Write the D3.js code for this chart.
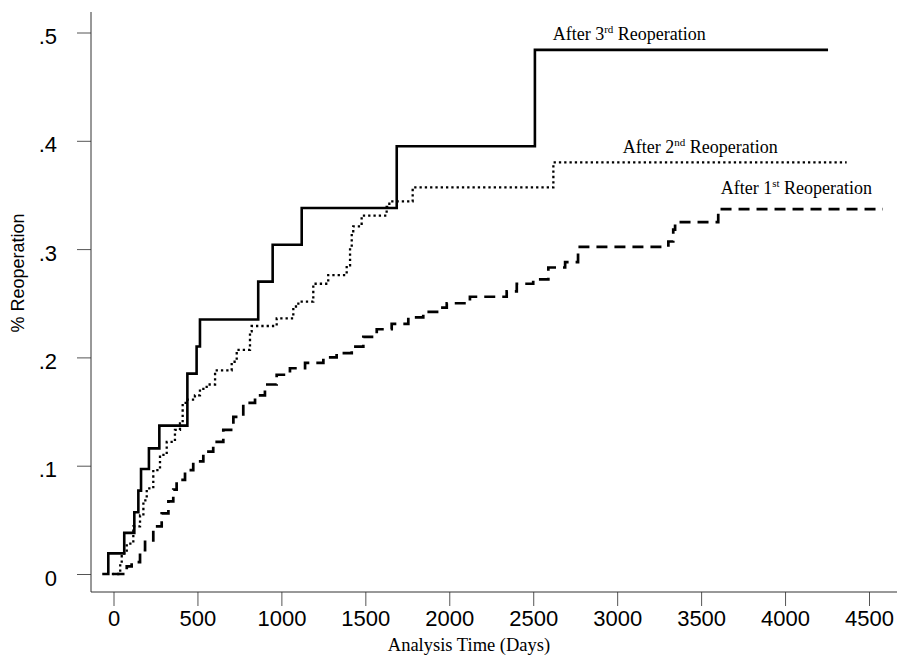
<!DOCTYPE html>
<html>
<head>
<meta charset="utf-8">
<script src="https://cdn.jsdelivr.net/npm/d3@7"></script>
<style>
  body { margin: 0; background: #fff; }
  svg { display: block; }
  .tick text { font-family: "Liberation Sans", Arial, sans-serif; font-size: 22px; fill: #000; }
  .tick line { stroke: #555; }
</style>
</head>
<body>
<div id="chart"></div>
<script>
// Kaplan-Meier style curves: step times (days) and cumulative values
var days1st = [0, 79, 108, 158, 188, 237, 287, 327, 356, 376, 426, 475, 535, 594, 654, 714, 773, 843, 902, 972,
  1051, 1141, 1250, 1329, 1419, 1488, 1568, 1657, 1756, 1845, 1945, 1985, 2123, 2342, 2402, 2500, 2590, 2690, 2767,
  3305, 3334, 3345, 3602, 4583];
var vals1st = [0, .007, .011, .022, .031, .044, .056, .067, .078, .087, .096, .104, .113, .122, .133, .145, .158, .165, .175, .184,
  .190, .195, .200, .204, .210, .219, .226, .231, .237, .242, .246, .250, .256, .261, .268, .272, .283, .288, .302,
  .307, .318, .325, .337, .337];

var days2nd = [-10, 40, 49, 79, 118, 158, 178, 198, 237, 277, 317, 366, 396, 412, 430, 485, 515, 555, 605, 704, 734,
  813, 823, 972, 1071, 1101, 1190, 1279, 1389, 1409, 1419, 1428, 1478, 1627, 1643, 1782, 2620, 4367];
var vals2nd = [0, .010, .019, .028, .044, .054, .068, .079, .096, .110, .122, .133, .139, .158, .161, .165, .171, .175, .188, .196, .207,
  .224, .229, .236, .247, .2515, .268, .276, .285, .302, .315, .321, .331, .339, .344, .357, .380, .380];

var days3rd = [-67, -31, 64, 124, 148, 164, 211, 273, 440, 495, 515, 862, 948, 1121, 1687, 2510, 4256];
var vals3rd = [0, .019, .038, .057, .077, .097, .116, .137, .185, .21, .235, .27, .304, .338, .395, .484, .484];

var xTicks = [0, 500, 1000, 1500, 2000, 2500, 3000, 3500, 4000, 4500];
var yTicks = [0, .1, .2, .3, .4, .5];

var width = 897, height = 655;

var svg = d3.select("#chart").append("svg")
  .attr("width", width)
  .attr("height", height);

var x = d3.scaleLinear().domain([0, 4500]).range([113.5, 869]);
var y = d3.scaleLinear().domain([0, .5]).range([574, 32.5]);

var axisX = 91, axisY = 592;

// axes
var gx = svg.append("g")
  .attr("transform", "translate(0," + axisY + ")")
  .call(d3.axisBottom(x).tickValues(xTicks).tickSize(14).tickSizeOuter(0).tickFormat(d3.format("d")));
gx.select(".domain").remove();
gx.selectAll(".tick text").attr("y", 34).attr("dy", 0);

var gy = svg.append("g")
  .attr("transform", "translate(" + axisX + ",0)")
  .call(d3.axisLeft(y).tickValues(yTicks).tickSize(14).tickSizeOuter(0)
    .tickFormat(v => v === 0 ? "0" : d3.format(".1f")(v).replace(/^0/, "")));
gy.select(".domain").remove();
gy.selectAll(".tick text").attr("x", -34).attr("dy", "0.5em");

svg.append("line")
  .attr("x1", axisX).attr("x2", axisX).attr("y1", 12).attr("y2", axisY)
  .attr("stroke", "#333").attr("stroke-width", 1);
svg.append("line")
  .attr("x1", axisX).attr("x2", width).attr("y1", axisY).attr("y2", axisY)
  .attr("stroke", "#333").attr("stroke-width", 1);

// curves
var line = d3.line()
  .x(d => x(d[0]))
  .y(d => y(d[1]))
  .curve(d3.curveStepAfter);

var series = [
  { pts: d3.zip(days1st, vals1st), w: 2.7, dash: "11,7" },
  { pts: d3.zip(days2nd, vals2nd), w: 2.3, dash: "2.3,3" },
  { pts: d3.zip(days3rd, vals3rd), w: 2.6, dash: null }
];

svg.selectAll(".curve")
  .data(series)
  .enter().append("path")
  .attr("class", "curve")
  .attr("d", d => line(d.pts))
  .attr("fill", "none")
  .attr("stroke", "#000")
  .attr("stroke-width", d => d.w)
  .attr("stroke-dasharray", d => d.dash);

// curve labels
var labels = [
  { x: 552.7, y: 40, ord: "3", sup: "rd" },
  { x: 622.7, y: 152.5, ord: "2", sup: "nd" },
  { x: 720.7, y: 194, ord: "1", sup: "st" }
];
var lt = svg.selectAll(".lbl")
  .data(labels)
  .enter().append("text")
  .attr("class", "lbl")
  .attr("x", d => d.x)
  .attr("y", d => d.y)
  .style("font-family", "'Liberation Serif', 'Times New Roman', serif")
  .style("font-size", "18px");
lt.append("tspan").text(d => "After " + d.ord);
lt.append("tspan").attr("dy", -7).style("font-size", "11px").text(d => d.sup);
lt.append("tspan").attr("dy", 7).text(" Reoperation");

// axis titles
svg.append("text")
  .attr("x", 469).attr("y", 651)
  .attr("text-anchor", "middle")
  .style("font-family", "'Liberation Serif', 'Times New Roman', serif")
  .style("font-size", "18.5px")
  .text("Analysis Time (Days)");

svg.append("text")
  .attr("transform", "translate(24,273) rotate(-90)")
  .attr("text-anchor", "middle")
  .style("font-family", "'Liberation Sans', Arial, sans-serif")
  .style("font-size", "18px")
  .text("% Reoperation");
</script>
</body>
</html>
